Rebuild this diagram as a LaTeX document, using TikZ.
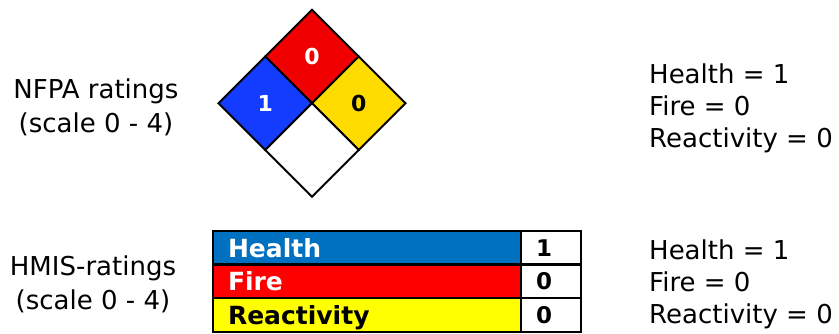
\documentclass[tikz,border=0pt]{standalone}
\usepackage{fontspec}
\setmainfont{DejaVu Sans}
\usepackage{tikz}
\usetikzlibrary{shapes.geometric, positioning}
\definecolor{nfpablue}{RGB}{20,60,255}
\definecolor{nfpared}{RGB}{240,0,0}
\definecolor{nfpayellow}{RGB}{255,220,0}
\definecolor{hmisblue}{RGB}{0,112,192}
\definecolor{hmisred}{RGB}{255,0,0}
\definecolor{hmisyellow}{RGB}{255,255,0}

\begin{document}
\begin{tikzpicture}[x=1pt, y=-1pt,
  quad/.style={diamond, draw=black, line width=2pt, minimum width=93.5pt, minimum height=93.5pt,
               inner sep=0pt, outer sep=0pt, font=\fontsize{22}{26}\selectfont\bfseries},
  bar/.style={rectangle, draw=black, line width=2.5pt, minimum width=308pt, minimum height=33.6pt,
              text width=278pt, align=left, inner sep=0pt, outer sep=0pt,
              text height=19pt, text depth=0pt, font=\fontsize{25}{30}\selectfont\bfseries},
  val/.style={rectangle, draw=black, fill=white, line width=2.5pt, minimum width=60pt, minimum height=33.6pt,
              text width=60pt, align=left, execute at begin node=\hspace*{15pt},
              inner sep=0pt, outer sep=0pt, text height=17pt, text depth=0pt,
              font=\fontsize{23}{28}\selectfont\bfseries},
  lbl/.style={align=center, inner sep=0pt, font=\fontsize{26}{34}\selectfont},
  res/.style={align=left, inner sep=0pt, anchor=west, font=\fontsize{26}{32}\selectfont}
]
  \useasboundingbox (0,0) rectangle (839,333);

  % NFPA diamond
  \node[quad, fill=nfpared, text=white] (nfpafire) at (312,56.5) {0};
  \node[quad, fill=nfpablue, text=white, anchor=north] (nfpahealth) at (nfpafire.west) {1};
  \node[quad, fill=nfpayellow, anchor=north] (nfpareact) at (nfpafire.east) {0};
  \node[quad, fill=white, anchor=north] (nfpaspecial) at (nfpafire.south) {};

  % HMIS bars
  \node[bar, fill=hmisblue, text=white] (hmishealth) at (367,247.8) {Health};
  \node[bar, fill=hmisred, text=white, below=0pt of hmishealth] (hmisfire) {Fire};
  \node[bar, fill=hmisyellow, below=0pt of hmisfire] (hmisreact) {Reactivity};
  \node[val, right=0pt of hmishealth] (hmishealthval) {1};
  \node[val, right=0pt of hmisfire] (hmisfireval) {0};
  \node[val, right=0pt of hmisreact] (hmisreactval) {0};

  % Labels
  \node[lbl] (nfpalbl) at (96,107) {NFPA ratings\\(scale 0 - 4)};
  \node[lbl] (hmislbl) at (93,284.5) {HMIS-ratings\\(scale 0 - 4)};
  \node[res] (nfpares) at (649,108) {Health = 1\\Fire = 0\\Reactivity = 0};
  \node[res] (hmisres) at (649,284) {Health = 1\\Fire = 0\\Reactivity = 0};
\end{tikzpicture}
\end{document}
